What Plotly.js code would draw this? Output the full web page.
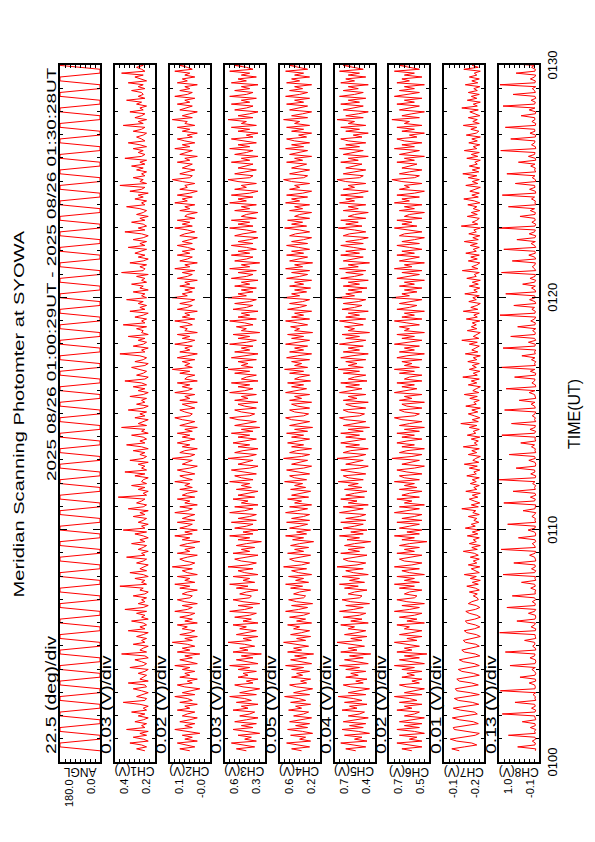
<!DOCTYPE html>
<html><head><meta charset="utf-8">
<script src="https://cdn.plot.ly/plotly-3.0.1.min.js"></script>
<style>
html,body{margin:0;padding:0;width:595px;height:842px;overflow:hidden;background:#fff}
#chart{position:absolute;left:0;top:0;width:842px;height:595px;transform-origin:0 0;transform:translate(0px,842px) rotate(-90deg);}
</style></head><body><div id="chart"></div>
<script>
// ---- data ----
const startUT = Date.UTC(2025,7,26,1,0,29);
const angleStepSec = 10, channelStepSec = 5;
const channelNames = ["ANGL","CH1(V)","CH2(V)","CH3(V)","CH4(V)","CH5(V)","CH6(V)","CH7(V)","CH8(V)"];
const perDivText = ["22.5 (deg)/div","0.03 (V)/div","0.02 (V)/div","0.03 (V)/div","0.05 (V)/div","0.04 (V)/div","0.02 (V)/div","0.01 (V)/div","0.13 (V)/div"];
const hiLabels = ["180.0","0.4","0.1","0.6","0.6","0.7","0.7","-0.1","1.0"];
const loLabels = ["0.0","0.2","-0.0","0.3","0.2","0.4","0.5","-0.2","-0.1"];
const perDiv = [22.5,0.03,0.02,0.03,0.05,0.04,0.02,0.01,0.13];
const rangeLo = [0,0.20,-0.03,0.31,0.20,0.40,0.50,-0.20,-0.08];

const ANGLE = [
0,180,180,0,0,180,180,0,0,180,180,0,0,180,180,0,0,180,180,0,
0,180,180,0,0,180,180,0,0,180,180,0,0,180,180,0,0,180,180,0,
0,180,180,0,0,180,180,0,0,180,180,0,0,180,180,0,0,180,180,0,
0,180,180,0,0,180,180,0,0,180,180,0,0,180,180,0,0,180,180,0,
0,180,180,0,0,180,180,0,0,180,180,0,0,180,180,0,0,180,180,0,
0,180,180,0,0,180,180,0,0,180,180,0,0,180,180,0,0,180,180,0,
0,180,180,0,0,180,180,0,0,180,180,0,0,180,180,0,0,180,180,0,
0,180,180,0,0,180,180,0,0,180,180,0,0,180,180,0,0,180,180,0,
0,180,180,0,0,180,180,0,0,180,180,0,0,180,180,0,0,180,180,0];
const CH1 = [
0.26,0.31,0.25,0.28,0.35,0.24,0.27,0.33,0.25,0.29,0.24,0.37,0.26,0.28,0.25,0.32,0.27,0.24,0.30,0.26,
0.34,0.25,0.27,0.24,0.29,0.39,0.26,0.25,0.31,0.27,0.24,0.28,0.33,0.25,0.26,0.36,0.24,0.29,0.27,0.25,
0.30,0.26,0.24,0.35,0.27,0.25,0.28,0.32,0.24,0.26,0.40,0.25,0.29,0.27,0.24,0.33,0.26,0.28,0.25,0.31,
0.27,0.24,0.36,0.26,0.29,0.25,0.27,0.34,0.24,0.28,0.26,0.31,0.25,0.38,0.27,0.24,0.30,0.26,0.28,0.25,
0.33,0.26,0.24,0.29,0.27,0.41,0.25,0.28,0.26,0.32,0.24,0.27,0.35,0.25,0.29,0.26,0.24,0.31,0.27,0.25,
0.37,0.26,0.28,0.24,0.30,0.27,0.25,0.34,0.26,0.29,0.24,0.27,0.32,0.25,0.39,0.26,0.28,0.24,0.30,0.27,
0.25,0.33,0.26,0.29,0.24,0.36,0.27,0.25,0.31,0.28,0.26,0.42,0.25,0.27,0.24,0.30,0.26,0.34,0.25,0.28,
0.27,0.24,0.32,0.26,0.38,0.25,0.28,0.26,0.30,0.24,0.35,0.27,0.25,0.29,0.26,0.33,0.24,0.28,0.37,0.26,
0.29,0.25,0.27,0.34,0.24,0.28,0.26,0.40,0.25,0.30,0.27,0.24,0.32,0.26,0.29,0.25,0.36,0.27,0.24,0.31,
0.26,0.28,0.25,0.35,0.27,0.24,0.30,0.26,0.33,0.25,0.28,0.38,0.26,0.24,0.31,0.27,0.25,0.29,0.34,0.26,
0.24,0.32,0.27,0.25,0.29,0.41,0.26,0.28,0.24,0.33,0.27,0.25,0.30,0.26,0.36,0.24,0.28,0.27,0.31,0.25,
0.39,0.26,0.28,0.25,0.32,0.27,0.24,0.35,0.26,0.29,0.25,0.30,0.27,0.37,0.25,0.28,0.26,0.33,0.24,0.29,
0.27,0.34,0.25,0.28,0.26,0.31,0.24,0.40,0.27,0.26,0.29,0.25,0.35,0.27,0.24,0.30,0.26,0.32,0.28,0.25,
0.36,0.26,0.29,0.25,0.33,0.27,0.24,0.28,0.38,0.26,0.30,0.25,0.27,0.34,0.26,0.29,0.24,0.31,0.27,0.25,
0.29,0.37,0.26,0.28,0.25,0.32,0.27,0.30,0.24,0.35,0.28,0.26,0.41,0.25,0.29,0.27,0.33,0.26,0.28,0.25,
0.31,0.27,0.34,0.26,0.29,0.25,0.38,0.28,0.26,0.30,0.27,0.33,0.25,0.29,0.36,0.26,0.28,0.31,0.27,0.25,
0.33,0.28,0.26,0.39,0.27,0.30,0.25,0.32,0.28,0.26,0.35,0.27,0.29,0.25,0.31,0.28,0.37,0.26,0.30,0.27,
0.28,0.34,0.26,0.30,0.27,0.36,0.25,0.29,0.32,0.27,0.40,0.26,0.28,0.31,0.27,0.34,0.26,0.29,0.33,0.27];
const CH2 = [
0.05,0.09,0.03,0.06,0.10,0.02,0.07,0.04,0.08,0.01,0.06,0.11,0.04,0.07,0.03,0.09,0.05,0.02,0.08,0.06,
0.03,0.10,0.05,0.07,0.02,0.09,0.04,0.06,0.11,0.03,0.08,0.05,0.01,0.07,0.10,0.04,0.06,0.02,0.09,0.05,
0.07,0.03,0.08,0.05,0.11,0.02,0.06,0.09,0.04,0.07,0.01,0.10,0.05,0.08,0.03,0.06,0.12,0.04,0.07,0.02,
0.09,0.05,0.03,0.08,0.06,0.10,0.02,0.07,0.04,0.09,0.05,0.03,0.11,0.06,0.04,0.08,0.02,0.07,0.10,0.05,
0.04,0.08,0.06,0.02,0.09,0.05,0.11,0.03,0.07,0.05,0.10,0.02,0.06,0.08,0.04,0.12,0.05,0.03,0.07,0.09,
0.06,0.02,0.10,0.05,0.07,0.03,0.09,0.06,0.01,0.08,0.05,0.11,0.04,0.07,0.02,0.09,0.06,0.04,0.10,0.03,
0.08,0.05,0.03,0.11,0.06,0.04,0.09,0.02,0.07,0.05,0.10,0.03,0.08,0.06,0.02,0.09,0.04,0.07,0.05,0.11,
0.04,0.07,0.09,0.03,0.06,0.10,0.05,0.02,0.08,0.06,0.04,0.12,0.05,0.03,0.09,0.07,0.02,0.08,0.05,0.10,
0.06,0.03,0.08,0.05,0.10,0.04,0.07,0.02,0.09,0.06,0.03,0.08,0.11,0.05,0.04,0.07,0.09,0.03,0.06,0.08,
0.02,0.09,0.05,0.07,0.03,0.11,0.06,0.04,0.08,0.05,0.10,0.02,0.07,0.06,0.03,0.09,0.05,0.12,0.04,0.07,
0.05,0.08,0.03,0.10,0.06,0.02,0.09,0.05,0.07,0.04,0.11,0.06,0.03,0.08,0.05,0.10,0.02,0.07,0.06,0.09,
0.04,0.06,0.11,0.03,0.08,0.05,0.07,0.02,0.10,0.06,0.04,0.09,0.05,0.03,0.12,0.06,0.08,0.04,0.07,0.03,
0.09,0.05,0.07,0.02,0.10,0.06,0.04,0.08,0.03,0.11,0.05,0.07,0.02,0.09,0.06,0.04,0.10,0.05,0.08,0.03,
0.06,0.10,0.04,0.08,0.05,0.02,0.09,0.07,0.03,0.06,0.11,0.04,0.08,0.05,0.10,0.03,0.07,0.06,0.02,0.09,
0.05,0.07,0.03,0.11,0.06,0.08,0.04,0.10,0.05,0.02,0.09,0.06,0.07,0.03,0.08,0.12,0.05,0.04,0.09,0.06,
0.03,0.08,0.06,0.04,0.10,0.05,0.07,0.02,0.09,0.06,0.04,0.11,0.05,0.08,0.03,0.07,0.10,0.04,0.06,0.02,
0.08,0.05,0.10,0.03,0.07,0.06,0.12,0.04,0.08,0.05,0.02,0.09,0.06,0.04,0.10,0.05,0.07,0.03,0.11,0.06,
0.04,0.09,0.05,0.07,0.02,0.10,0.06,0.08,0.03,0.07,0.05,0.11,0.04,0.06,0.09,0.03,0.08,0.05,0.10,0.06];
const CH3 = [
0.42,0.48,0.37,0.44,0.51,0.36,0.43,0.39,0.47,0.34,0.41,0.50,0.38,0.45,0.36,0.49,0.42,0.35,0.46,0.40,
0.37,0.50,0.41,0.45,0.35,0.48,0.39,0.43,0.52,0.36,0.46,0.40,0.34,0.44,0.49,0.38,0.42,0.35,0.47,0.41,
0.44,0.36,0.47,0.40,0.52,0.35,0.42,0.48,0.38,0.45,0.33,0.50,0.41,0.46,0.37,0.43,0.53,0.39,0.44,0.35,
0.48,0.41,0.36,0.46,0.42,0.50,0.35,0.44,0.39,0.49,0.40,0.36,0.52,0.43,0.38,0.47,0.34,0.44,0.50,0.40,
0.39,0.46,0.42,0.35,0.48,0.41,0.52,0.37,0.44,0.40,0.50,0.35,0.43,0.47,0.38,0.53,0.41,0.36,0.45,0.49,
0.42,0.35,0.50,0.40,0.45,0.37,0.48,0.42,0.33,0.47,0.40,0.52,0.38,0.44,0.35,0.49,0.42,0.38,0.51,0.36,
0.47,0.40,0.36,0.52,0.43,0.38,0.49,0.35,0.45,0.41,0.50,0.37,0.47,0.42,0.35,0.48,0.39,0.45,0.40,0.52,
0.38,0.45,0.49,0.36,0.43,0.51,0.40,0.35,0.47,0.42,0.38,0.53,0.41,0.36,0.49,0.44,0.35,0.47,0.40,0.50,
0.43,0.36,0.47,0.40,0.51,0.38,0.45,0.34,0.49,0.42,0.36,0.47,0.52,0.40,0.37,0.45,0.49,0.36,0.43,0.47,
0.35,0.49,0.41,0.45,0.36,0.52,0.43,0.38,0.47,0.40,0.51,0.35,0.45,0.42,0.36,0.49,0.40,0.53,0.38,0.45,
0.41,0.47,0.36,0.51,0.43,0.35,0.49,0.40,0.45,0.38,0.52,0.42,0.36,0.47,0.40,0.50,0.34,0.45,0.42,0.48,
0.38,0.43,0.52,0.36,0.47,0.40,0.45,0.35,0.50,0.42,0.38,0.49,0.40,0.36,0.53,0.42,0.47,0.38,0.45,0.36,
0.49,0.40,0.45,0.35,0.51,0.42,0.38,0.47,0.36,0.52,0.40,0.45,0.34,0.49,0.42,0.38,0.51,0.40,0.47,0.36,
0.42,0.51,0.38,0.47,0.40,0.35,0.49,0.44,0.36,0.42,0.52,0.38,0.47,0.40,0.51,0.36,0.45,0.42,0.35,0.49,
0.40,0.45,0.36,0.52,0.42,0.47,0.38,0.51,0.40,0.35,0.49,0.42,0.45,0.36,0.47,0.53,0.40,0.38,0.49,0.42,
0.36,0.47,0.42,0.38,0.51,0.40,0.45,0.35,0.49,0.42,0.38,0.52,0.40,0.47,0.36,0.45,0.51,0.38,0.42,0.35,
0.47,0.40,0.51,0.36,0.45,0.42,0.53,0.38,0.47,0.40,0.35,0.49,0.42,0.38,0.51,0.40,0.45,0.36,0.52,0.42,
0.38,0.49,0.40,0.45,0.35,0.51,0.42,0.47,0.36,0.45,0.40,0.52,0.38,0.42,0.49,0.36,0.47,0.40,0.51,0.42];
const CH4 = [
0.38,0.48,0.30,0.42,0.53,0.29,0.40,0.34,0.49,0.27,0.37,0.52,0.32,0.44,0.30,0.50,0.39,0.28,0.46,0.36,
0.31,0.51,0.38,0.44,0.29,0.49,0.34,0.41,0.55,0.30,0.46,0.37,0.27,0.43,0.50,0.33,0.39,0.29,0.48,0.37,
0.43,0.30,0.48,0.36,0.54,0.28,0.40,0.49,0.33,0.45,0.26,0.52,0.38,0.46,0.31,0.42,0.56,0.34,0.43,0.29,
0.49,0.38,0.30,0.46,0.40,0.52,0.28,0.43,0.34,0.50,0.36,0.30,0.54,0.41,0.32,0.48,0.27,0.43,0.51,0.36,
0.34,0.46,0.40,0.29,0.49,0.37,0.54,0.31,0.44,0.36,0.51,0.28,0.41,0.48,0.33,0.56,0.38,0.30,0.45,0.50,
0.40,0.29,0.52,0.36,0.45,0.31,0.49,0.40,0.26,0.47,0.36,0.54,0.33,0.43,0.29,0.50,0.40,0.32,0.53,0.30,
0.48,0.36,0.30,0.54,0.42,0.32,0.50,0.28,0.45,0.38,0.52,0.31,0.48,0.40,0.29,0.49,0.34,0.45,0.37,0.55,
0.33,0.45,0.50,0.30,0.42,0.53,0.36,0.28,0.48,0.40,0.32,0.56,0.38,0.30,0.50,0.43,0.28,0.48,0.36,0.52,
0.42,0.30,0.48,0.36,0.53,0.32,0.45,0.27,0.50,0.40,0.30,0.48,0.54,0.36,0.31,0.45,0.50,0.30,0.42,0.48,
0.28,0.50,0.38,0.45,0.30,0.54,0.42,0.33,0.48,0.36,0.52,0.29,0.45,0.40,0.30,0.50,0.36,0.55,0.32,0.45,
0.38,0.48,0.30,0.53,0.42,0.28,0.50,0.36,0.45,0.32,0.54,0.40,0.30,0.48,0.36,0.52,0.27,0.45,0.40,0.49,
0.32,0.42,0.54,0.30,0.48,0.36,0.45,0.28,0.52,0.40,0.33,0.50,0.37,0.30,0.56,0.40,0.48,0.33,0.45,0.29,
0.50,0.36,0.45,0.28,0.53,0.40,0.32,0.48,0.30,0.54,0.37,0.45,0.27,0.50,0.40,0.32,0.53,0.36,0.48,0.30,
0.41,0.53,0.32,0.48,0.36,0.28,0.50,0.44,0.30,0.40,0.55,0.33,0.48,0.37,0.52,0.30,0.45,0.40,0.28,0.50,
0.37,0.45,0.30,0.54,0.40,0.48,0.32,0.53,0.37,0.28,0.50,0.40,0.45,0.30,0.48,0.56,0.36,0.32,0.50,0.40,
0.30,0.48,0.41,0.33,0.53,0.37,0.45,0.28,0.50,0.40,0.32,0.54,0.36,0.48,0.30,0.45,0.53,0.33,0.41,0.28,
0.48,0.36,0.53,0.30,0.45,0.40,0.56,0.32,0.48,0.37,0.28,0.50,0.40,0.32,0.53,0.36,0.45,0.30,0.54,0.40,
0.32,0.50,0.37,0.45,0.28,0.53,0.40,0.48,0.30,0.45,0.36,0.54,0.32,0.41,0.50,0.30,0.48,0.37,0.53,0.40];
const CH5 = [
0.55,0.63,0.47,0.58,0.67,0.46,0.56,0.50,0.64,0.44,0.53,0.66,0.49,0.60,0.47,0.65,0.55,0.45,0.61,0.52,
0.48,0.66,0.54,0.60,0.46,0.64,0.50,0.57,0.69,0.47,0.61,0.53,0.44,0.59,0.65,0.49,0.55,0.46,0.63,0.53,
0.59,0.47,0.63,0.52,0.68,0.45,0.56,0.64,0.49,0.60,0.43,0.67,0.54,0.61,0.48,0.58,0.70,0.50,0.59,0.46,
0.64,0.54,0.47,0.61,0.56,0.67,0.45,0.59,0.50,0.65,0.52,0.47,0.68,0.57,0.49,0.63,0.44,0.59,0.66,0.52,
0.50,0.61,0.56,0.46,0.64,0.53,0.68,0.48,0.60,0.52,0.66,0.45,0.57,0.63,0.49,0.70,0.54,0.47,0.61,0.65,
0.56,0.46,0.67,0.52,0.61,0.48,0.64,0.56,0.43,0.62,0.52,0.68,0.49,0.59,0.46,0.65,0.56,0.49,0.67,0.47,
0.63,0.52,0.47,0.68,0.58,0.49,0.65,0.45,0.61,0.54,0.67,0.48,0.63,0.56,0.46,0.64,0.50,0.61,0.53,0.69,
0.49,0.61,0.65,0.47,0.58,0.67,0.52,0.45,0.63,0.56,0.49,0.70,0.54,0.47,0.65,0.59,0.45,0.63,0.52,0.67,
0.58,0.47,0.63,0.52,0.67,0.49,0.61,0.44,0.65,0.56,0.47,0.63,0.68,0.52,0.48,0.61,0.65,0.47,0.58,0.63,
0.45,0.65,0.54,0.61,0.47,0.68,0.58,0.50,0.63,0.52,0.67,0.46,0.61,0.56,0.47,0.65,0.52,0.69,0.49,0.61,
0.54,0.63,0.47,0.67,0.58,0.45,0.65,0.52,0.61,0.49,0.68,0.56,0.47,0.63,0.52,0.66,0.44,0.61,0.56,0.64,
0.49,0.58,0.68,0.47,0.63,0.52,0.61,0.45,0.66,0.56,0.50,0.65,0.53,0.47,0.70,0.56,0.63,0.50,0.61,0.46,
0.65,0.52,0.61,0.45,0.67,0.56,0.49,0.63,0.47,0.68,0.53,0.61,0.44,0.65,0.56,0.49,0.67,0.52,0.63,0.47,
0.57,0.67,0.49,0.63,0.52,0.45,0.65,0.60,0.47,0.56,0.69,0.50,0.63,0.53,0.67,0.47,0.61,0.56,0.45,0.65,
0.53,0.61,0.47,0.68,0.56,0.63,0.49,0.67,0.53,0.45,0.65,0.56,0.61,0.47,0.63,0.70,0.52,0.49,0.65,0.56,
0.47,0.63,0.57,0.50,0.67,0.53,0.61,0.45,0.65,0.56,0.49,0.68,0.52,0.63,0.47,0.61,0.67,0.50,0.57,0.45,
0.63,0.52,0.67,0.47,0.61,0.56,0.70,0.49,0.63,0.53,0.45,0.65,0.56,0.49,0.67,0.52,0.61,0.47,0.68,0.56,
0.49,0.65,0.53,0.61,0.45,0.67,0.56,0.63,0.47,0.61,0.52,0.68,0.49,0.57,0.65,0.47,0.63,0.53,0.67,0.56];
const CH6 = [
0.57,0.61,0.53,0.59,0.63,0.53,0.58,0.55,0.62,0.52,0.56,0.63,0.54,0.60,0.53,0.62,0.57,0.52,0.60,0.56,
0.54,0.63,0.57,0.60,0.53,0.62,0.55,0.58,0.64,0.53,0.60,0.56,0.52,0.59,0.62,0.54,0.57,0.53,0.61,0.56,
0.59,0.53,0.61,0.56,0.64,0.52,0.58,0.62,0.54,0.60,0.51,0.63,0.57,0.60,0.54,0.59,0.64,0.55,0.59,0.53,
0.62,0.57,0.53,0.60,0.58,0.63,0.52,0.59,0.55,0.62,0.56,0.53,0.64,0.58,0.54,0.61,0.52,0.59,0.63,0.56,
0.55,0.60,0.58,0.53,0.62,0.56,0.64,0.54,0.60,0.56,0.63,0.52,0.58,0.61,0.54,0.64,0.57,0.53,0.60,0.62,
0.58,0.53,0.63,0.56,0.60,0.54,0.62,0.58,0.51,0.61,0.56,0.64,0.54,0.59,0.53,0.62,0.58,0.54,0.63,0.53,
0.61,0.56,0.53,0.64,0.59,0.54,0.62,0.52,0.60,0.57,0.63,0.54,0.61,0.58,0.53,0.62,0.55,0.60,0.56,0.64,
0.54,0.60,0.62,0.53,0.59,0.63,0.56,0.52,0.61,0.58,0.54,0.65,0.57,0.53,0.62,0.59,0.52,0.61,0.56,0.63,
0.59,0.53,0.61,0.56,0.63,0.54,0.60,0.52,0.62,0.58,0.53,0.61,0.64,0.56,0.54,0.60,0.62,0.53,0.59,0.61,
0.52,0.62,0.57,0.60,0.53,0.64,0.59,0.55,0.61,0.56,0.63,0.53,0.60,0.58,0.53,0.62,0.56,0.64,0.54,0.60,
0.57,0.61,0.53,0.63,0.59,0.52,0.62,0.56,0.60,0.54,0.64,0.58,0.53,0.61,0.56,0.63,0.52,0.60,0.58,0.62,
0.54,0.59,0.64,0.53,0.61,0.56,0.60,0.52,0.63,0.58,0.55,0.62,0.57,0.53,0.65,0.58,0.61,0.55,0.60,0.53,
0.62,0.56,0.60,0.52,0.63,0.58,0.54,0.61,0.53,0.64,0.57,0.60,0.52,0.62,0.58,0.54,0.63,0.56,0.61,0.53,
0.58,0.63,0.54,0.61,0.56,0.52,0.62,0.60,0.53,0.58,0.64,0.55,0.61,0.57,0.63,0.53,0.60,0.58,0.52,0.62,
0.56,0.60,0.53,0.64,0.58,0.61,0.54,0.63,0.56,0.52,0.62,0.58,0.60,0.53,0.61,0.65,0.56,0.54,0.62,0.58,
0.53,0.61,0.58,0.55,0.63,0.56,0.60,0.52,0.62,0.58,0.54,0.64,0.56,0.61,0.53,0.60,0.63,0.55,0.58,0.52,
0.61,0.56,0.63,0.53,0.60,0.58,0.65,0.54,0.61,0.57,0.52,0.62,0.58,0.54,0.63,0.56,0.60,0.53,0.64,0.58,
0.54,0.62,0.56,0.60,0.52,0.63,0.58,0.61,0.53,0.60,0.56,0.64,0.54,0.58,0.62,0.53,0.61,0.56,0.63,0.58];
const CH7 = [
-0.150,-0.135,-0.160,-0.185,-0.175,-0.145,-0.132,-0.155,-0.182,-0.190,-0.165,-0.140,-0.138,-0.168,-0.188,-0.178,-0.150,-0.136,-0.158,-0.186,
-0.180,-0.152,-0.138,-0.162,-0.189,-0.176,-0.148,-0.140,-0.166,-0.190,-0.172,-0.145,-0.142,-0.170,-0.188,-0.175,-0.150,-0.145,-0.168,-0.190,
-0.178,-0.155,-0.148,-0.172,-0.190,-0.180,-0.158,-0.150,-0.175,-0.191,-0.182,-0.160,-0.155,-0.176,-0.190,-0.183,-0.162,-0.158,-0.178,-0.192,
-0.184,-0.165,-0.160,-0.180,-0.191,-0.182,-0.166,-0.162,-0.181,-0.192,-0.185,-0.170,-0.163,-0.182,-0.191,-0.184,-0.168,-0.175,-0.188,-0.186,
-0.178,-0.186,-0.170,-0.190,-0.182,-0.165,-0.188,-0.176,-0.192,-0.172,-0.184,-0.160,-0.190,-0.180,-0.174,-0.191,-0.168,-0.185,-0.178,-0.190,
-0.172,-0.188,-0.180,-0.158,-0.186,-0.175,-0.192,-0.170,-0.184,-0.178,-0.190,-0.166,-0.187,-0.176,-0.191,-0.162,-0.182,-0.174,-0.189,-0.179,
-0.185,-0.168,-0.190,-0.177,-0.183,-0.155,-0.188,-0.174,-0.191,-0.180,-0.170,-0.187,-0.176,-0.192,-0.163,-0.185,-0.179,-0.190,-0.172,-0.184,
-0.176,-0.190,-0.165,-0.184,-0.179,-0.191,-0.170,-0.186,-0.160,-0.189,-0.177,-0.183,-0.192,-0.168,-0.185,-0.175,-0.190,-0.158,-0.186,-0.180,
-0.188,-0.174,-0.191,-0.166,-0.183,-0.178,-0.190,-0.170,-0.185,-0.153,-0.188,-0.176,-0.191,-0.180,-0.168,-0.187,-0.175,-0.192,-0.163,-0.184,
-0.179,-0.190,-0.171,-0.186,-0.160,-0.189,-0.177,-0.184,-0.192,-0.168,-0.185,-0.174,-0.190,-0.157,-0.186,-0.178,-0.191,-0.170,-0.184,-0.176,
-0.190,-0.167,-0.185,-0.178,-0.192,-0.162,-0.187,-0.175,-0.183,-0.190,-0.170,-0.186,-0.155,-0.189,-0.178,-0.184,-0.192,-0.166,-0.185,-0.174,
-0.184,-0.176,-0.191,-0.164,-0.186,-0.179,-0.190,-0.158,-0.187,-0.173,-0.185,-0.192,-0.169,-0.184,-0.177,-0.190,-0.161,-0.186,-0.179,-0.191,
-0.170,-0.188,-0.176,-0.192,-0.165,-0.184,-0.180,-0.190,-0.156,-0.187,-0.175,-0.185,-0.191,-0.168,-0.186,-0.173,-0.190,-0.163,-0.184,-0.178,
-0.190,-0.172,-0.186,-0.160,-0.188,-0.177,-0.191,-0.169,-0.184,-0.179,-0.192,-0.154,-0.187,-0.176,-0.185,-0.190,-0.166,-0.186,-0.174,-0.191,
-0.178,-0.185,-0.167,-0.191,-0.180,-0.159,-0.188,-0.175,-0.190,-0.171,-0.184,-0.192,-0.163,-0.187,-0.176,-0.190,-0.168,-0.185,-0.157,-0.189,
-0.176,-0.191,-0.170,-0.186,-0.181,-0.192,-0.165,-0.187,-0.174,-0.190,-0.160,-0.185,-0.178,-0.191,-0.169,-0.186,-0.175,-0.192,-0.164,-0.184,
-0.189,-0.173,-0.185,-0.158,-0.190,-0.177,-0.186,-0.168,-0.191,-0.180,-0.171,-0.188,-0.155,-0.186,-0.178,-0.192,-0.166,-0.185,-0.174,-0.190,
-0.168,-0.186,-0.179,-0.191,-0.162,-0.187,-0.175,-0.190,-0.170,-0.185,-0.180,-0.192,-0.159,-0.188,-0.176,-0.184,-0.191,-0.167,-0.186,-0.178];
const CH8 = [
0.02,0.01,0.48,0.03,0.02,0.10,0.01,0.03,0.72,0.02,0.04,0.01,0.15,0.02,0.03,0.36,0.01,0.02,0.04,0.88,
0.03,0.01,0.12,0.02,0.04,0.55,0.01,0.03,0.02,0.08,0.01,0.93,0.03,0.02,0.04,0.18,0.01,0.02,0.42,0.03,
0.01,0.04,0.11,0.02,0.68,0.03,0.01,0.02,0.16,0.04,0.03,0.80,0.01,0.02,0.09,0.03,0.04,0.30,0.01,0.02,
0.03,0.95,0.02,0.01,0.13,0.04,0.02,0.50,0.03,0.01,0.02,0.20,0.04,0.01,0.76,0.03,0.02,0.10,0.01,0.04,
0.62,0.02,0.03,0.01,0.14,0.02,0.04,0.38,0.01,0.03,0.02,0.86,0.04,0.01,0.12,0.02,0.03,0.58,0.01,0.02,
0.04,0.17,0.03,0.01,0.91,0.02,0.04,0.10,0.01,0.03,0.46,0.02,0.01,0.04,0.21,0.03,0.02,0.74,0.01,0.03,
0.02,0.11,0.04,0.01,0.34,0.03,0.02,0.01,0.84,0.04,0.02,0.15,0.01,0.03,0.60,0.02,0.04,0.01,0.09,0.03,
0.97,0.02,0.01,0.14,0.03,0.04,0.52,0.02,0.01,0.03,0.19,0.02,0.04,0.70,0.01,0.03,0.02,0.12,0.04,0.40,
0.01,0.03,0.02,0.89,0.04,0.01,0.16,0.03,0.02,0.64,0.01,0.04,0.02,0.10,0.03,0.01,0.82,0.02,0.04,0.13,
0.03,0.44,0.01,0.02,0.04,0.18,0.03,0.78,0.01,0.02,0.11,0.04,0.03,0.56,0.02,0.01,0.15,0.03,0.92,0.02,
0.04,0.01,0.12,0.03,0.37,0.02,0.04,0.01,0.86,0.03,0.02,0.20,0.01,0.04,0.66,0.03,0.02,0.09,0.01,0.48,
0.03,0.02,0.14,0.04,0.01,0.94,0.03,0.02,0.11,0.04,0.58,0.01,0.03,0.17,0.02,0.04,0.79,0.01,0.03,0.12,
0.02,0.35,0.04,0.01,0.16,0.03,0.02,0.90,0.01,0.04,0.10,0.03,0.02,0.62,0.01,0.04,0.19,0.02,0.03,0.84,
0.01,0.04,0.13,0.02,0.50,0.03,0.01,0.18,0.04,0.02,0.96,0.03,0.01,0.11,0.02,0.04,0.42,0.03,0.02,0.15,
0.04,0.72,0.01,0.03,0.02,0.12,0.04,0.88,0.01,0.02,0.17,0.03,0.04,0.54,0.01,0.02,0.10,0.03,0.76,0.01,
0.04,0.02,0.14,0.03,0.46,0.01,0.02,0.20,0.04,0.03,0.92,0.01,0.02,0.12,0.04,0.03,0.66,0.02,0.01,0.16,
0.03,0.04,0.80,0.02,0.01,0.11,0.03,0.04,0.39,0.02,0.01,0.18,0.03,0.86,0.04,0.02,0.13,0.01,0.03,0.60,
0.02,0.04,0.10,0.01,0.94,0.03,0.02,0.15,0.04,0.01,0.52,0.03,0.02,0.12,0.04,0.74,0.01,0.03,0.17,0.02];
const series = [ANGLE,CH1,CH2,CH3,CH4,CH5,CH6,CH7,CH8];

// ---- build ----
function fmt(ms){return new Date(ms).toISOString().slice(0,19).replace('T',' ');}
function timesFor(n,step){const a=[];for(let i=0;i<n;i++)a.push(fmt(startUT+i*step*1000));return a;}
const W=842,H=595;
const X0=80,X1=777;
const PTOP=60,PH=40,PSTEP=54.9;
const px=x=>x/W, py=y=>1-y/H;
const FONT="Liberation Sans, Arial, Helvetica, sans-serif";
const tStart='2025-08-26 01:00:00', tEnd='2025-08-26 01:30:00';

const data=[], stretchInfo={};
const layout={width:W,height:H,margin:{l:0,r:0,t:0,b:0},paper_bgcolor:'#fff',plot_bgcolor:'#fff',
  showlegend:false,font:{family:FONT,color:'#000'},annotations:[]};
function addAnn(a,stretch){ if(stretch) stretchInfo[layout.annotations.length]=stretch; layout.annotations.push(a); }
series.forEach((vals,i)=>{
  const k=i+1, sx=k===1?'':k;
  data.push({x:timesFor(vals.length,i===0?angleStepSec:channelStepSec),y:vals,type:'scatter',mode:'lines',
    line:{color:'#ff0000',width:1},xaxis:'x'+sx,yaxis:'y'+sx,hoverinfo:'skip'});
  const top=PTOP+i*PSTEP, bot=top+PH;
  layout['xaxis'+sx]={type:'date',range:[tStart,tEnd],domain:[px(X0),px(X1)],anchor:'y'+sx,
    tick0:tStart,dtick:600000,ticks:'inside',ticklen:7,tickwidth:1.5,tickcolor:'#000',
    minor:{dtick:60000,tick0:tStart,ticks:'inside',ticklen:3,tickwidth:1,tickcolor:'#000',showgrid:false},
    showline:true,linewidth:2,linecolor:'#000',mirror:'ticks',showgrid:false,zeroline:false,
    showticklabels:i===8,tickformat:'%H%M',tickfont:{size:13,family:FONT},fixedrange:true};
  if(k>1) layout['xaxis'+sx].matches='x';
  const lo=rangeLo[i], hi=lo+8*perDiv[i];
  layout['yaxis'+sx]={range:[lo,hi],domain:[py(bot),py(top)],anchor:'x'+sx,tick0:lo,dtick:perDiv[i],
    ticks:'inside',ticklen:3,tickwidth:1,tickcolor:'#000',showline:true,linewidth:2,linecolor:'#000',
    mirror:'ticks',showgrid:false,zeroline:false,showticklabels:false,fixedrange:true};
  addAnn({xref:'paper',yref:'paper',x:px(86),y:py(top+1.5),xanchor:'left',yanchor:'bottom',showarrow:false,
    text:perDivText[i],font:{size:14}},{f:1.38,anchor:'left'});
  addAnn({xref:'paper',yref:'paper',x:px(65),y:py(top+1),xanchor:'right',yanchor:'top',showarrow:false,
    text:hiLabels[i],font:{size:11}});
  addAnn({xref:'paper',yref:'paper',x:px(65),y:py(bot-1),xanchor:'right',yanchor:'bottom',showarrow:false,
    text:loLabels[i],font:{size:11}});
  addAnn({xref:'paper',yref:'paper',x:px(70.5),y:py((top+bot)/2),xanchor:'center',yanchor:'middle',textangle:-90,
    showarrow:false,text:channelNames[i],font:{size:12}});
});
addAnn({xref:'paper',yref:'paper',x:px(776),y:py(61.5),xanchor:'right',yanchor:'bottom',showarrow:false,
  text:'2025 08/26 01:00:29UT - 2025 08/26 01:30:28UT',font:{size:13.5}},{f:1.4,anchor:'right'});
addAnn({xref:'paper',yref:'paper',x:px(428),y:py(18),xanchor:'center',yanchor:'middle',showarrow:false,
  text:'Meridian Scanning Photomter at SYOWA',font:{size:15}},{f:1.34,anchor:'center'});
addAnn({xref:'paper',yref:'paper',x:px(428),y:py(574),xanchor:'center',yanchor:'middle',showarrow:false,
  text:'TIME(UT)',font:{size:16}});

Plotly.newPlot('chart',data,layout,{staticPlot:true,displayModeBar:false}).then(()=>{
  document.querySelectorAll('#chart g.annotation').forEach(g=>{
    const s=stretchInfo[+g.getAttribute('data-index')]; if(!s) return;
    const t=g.querySelector('text.annotation-text'); if(!t) return;
    const b=t.getBBox();
    const ox=s.anchor==='left'?b.x:(s.anchor==='right'?b.x+b.width:b.x+b.width/2);
    t.setAttribute('transform','translate('+ox+',0) scale('+s.f+',1) translate('+(-ox)+',0)');
  });
});
</script></body></html>
